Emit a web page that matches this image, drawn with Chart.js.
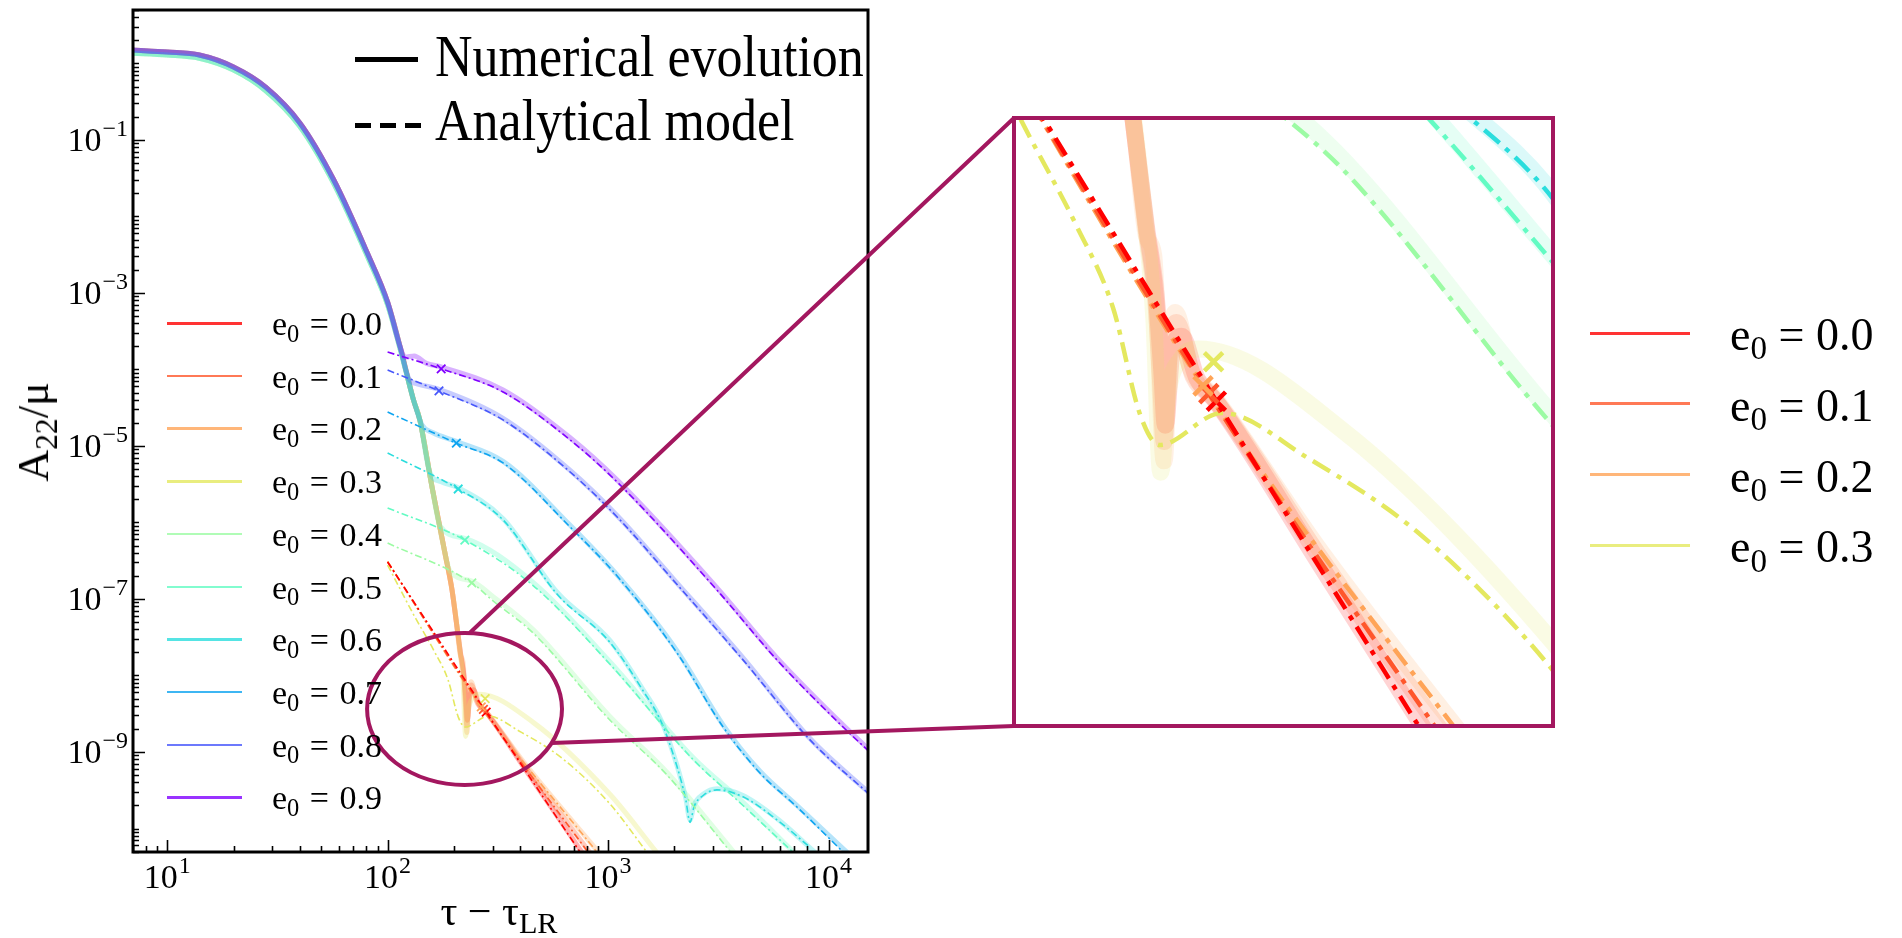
<!DOCTYPE html>
<html>
<head>
<meta charset="utf-8">
<script src="https://cdn.jsdelivr.net/npm/chart.js@4.4.0/dist/chart.umd.min.js"></script>
<style>
  html, body { margin: 0; padding: 0; background: #fff; }
  body { width: 1902px; height: 938px; position: relative; overflow: hidden;
         font-family: "Liberation Serif", "Times New Roman", serif; color: #000; }
  canvas { position: absolute; }
  #main { left: 0; top: 0; }
  #inset { left: 1014px; top: 118px; }
  #overlay { left: 0; top: 0; pointer-events: none; }
  .txt { position: absolute; white-space: nowrap; line-height: 1; }
  .sub { font-size: 0.72em; position: relative; top: 0.28em; }
  .bar { position: absolute; }
</style>
</head>
<body>
<canvas id="main" width="1902" height="938"></canvas>
<canvas id="inset" width="539" height="608"></canvas>
<canvas id="overlay" width="1902" height="938"></canvas>
<script>
// eccentricities and their colours (rainbow map, reversed)
const eccLabels = ['0.0', '0.1', '0.2', '0.3', '0.4', '0.5', '0.6', '0.7', '0.8', '0.9'];
const eccColors = [[255, 0, 0], [255, 87, 44], [255, 164, 87], [228, 232, 95], [156, 251, 164],
                   [99, 251, 195], [42, 221, 221], [14, 164, 240], [71, 87, 251], [128, 0, 255]];

// common start of the numerical runs (merger part)
const headX = [7, 10, 14, 20, 28, 40, 57, 81, 100, 114];
const headY = [1.5, 1.41, 1.29, 0.9, 0.49, 0.167, 0.030, 0.0033, 7.6e-4, 1.97e-4];
const headYLow = [1.36, 1.29, 1.17, 0.82, 0.44, 0.15, 0.027, 0.0030, 7.0e-4, 1.85e-4];

// numerical evolution after the merger, one row per e0
const numX = [
  [131, 140, 159, 182, 196, 205, 214, 222, 227, 230, 236, 245, 260, 280, 420, 760],
  [131, 140, 159, 182, 196, 205, 214, 222, 226, 229, 233, 240, 256, 278, 420, 820],
  [131, 140, 159, 182, 196, 205, 214, 220, 224, 229, 234, 239, 254, 277, 420, 900],
  [131, 140, 159, 182, 196, 210, 220, 226, 232, 245, 261, 459, 1019, 1650],
  [131, 140, 159, 182, 192, 241, 300, 457, 1021, 1852, 3700],
  [131, 140, 159, 173, 224, 457, 1021, 2429, 4093, 6900],
  [131, 140, 155, 175, 209, 334, 588, 1021, 1442, 1750, 2056, 2250, 2355, 2450, 2700, 3119, 4093, 5834, 8600],
  [131, 143, 160, 205, 334, 673, 1109, 2056, 3327, 4887, 7194, 12500],
  [125, 136, 171, 334, 673, 1109, 1972, 4093, 8241, 16000],
  [120, 132, 150, 175, 334, 673, 1109, 3119, 5834, 11640, 16000]
];
const numY = [
  [4e-5, 2.19e-5, 2.91e-6, 4e-7, 1.31e-7, 5e-8, 2e-8, 1e-8, 4.5e-9, 2.6e-9, 5.5e-9, 6.5e-9, 4.2e-9, 3.3e-9, 6e-10, 4.9e-11],
  [4e-5, 2.19e-5, 2.91e-6, 4e-7, 1.31e-7, 5e-8, 1.9e-8, 9e-9, 4e-9, 2.2e-9, 5e-9, 7.5e-9, 4.3e-9, 3.4e-9, 6.5e-10, 5e-11],
  [4e-5, 2.19e-5, 2.91e-6, 4e-7, 1.31e-7, 5e-8, 1.82e-8, 1.5e-8, 6e-9, 1.8e-9, 6e-9, 8.3e-9, 4.6e-9, 3.5e-9, 7e-10, 5e-11],
  [4e-5, 2.19e-5, 2.91e-6, 4e-7, 1.31e-7, 3e-8, 8e-9, 1.6e-9, 3.5e-9, 5.2e-9, 5.7e-9, 2.42e-9, 2.8e-10, 5e-11],
  [4e-5, 2.19e-5, 2.91e-6, 4e-7, 2.3e-7, 1.72e-7, 1.08e-7, 4.0e-8, 2.9e-9, 5.4e-10, 5e-11],
  [4e-5, 2.19e-5, 2.91e-6, 9e-7, 6.2e-7, 1.65e-7, 1.5e-8, 8.5e-10, 2.2e-10, 5e-11],
  [4e-5, 2.19e-5, 4.6e-6, 3.4e-6, 2.85e-6, 1.12e-6, 1.22e-7, 2.85e-8, 6.5e-9, 2.5e-9, 6.6e-10, 2.5e-10, 1.3e-10, 2e-10, 2.8e-10, 3.3e-10, 2.7e-10, 1.35e-10, 5e-11],
  [4e-5, 1.9e-5, 1.5e-5, 1.15e-5, 6.3e-6, 9.2e-7, 2.0e-7, 2.1e-8, 2.25e-9, 5.6e-10, 2.0e-10, 4.5e-11],
  [7.5e-5, 6.5e-5, 5.5e-5, 2.3e-5, 4.8e-6, 1.2e-6, 1.85e-7, 1.7e-8, 1.5e-9, 2.6e-10],
  [1.45e-4, 1.5e-4, 1.2e-4, 1.08e-4, 5.4e-5, 1.28e-5, 3.5e-6, 1.4e-7, 1.7e-8, 2.25e-9, 9.5e-10]
];

// analytical model, one row per e0
const anaX = [
  [100, 280, 746],
  [100, 272, 811],
  [100, 266, 891],
  [100, 132, 163, 188, 209, 225, 286, 396, 618, 1019, 1500],
  [100, 241, 300, 457, 1021, 1852, 3600],
  [100, 224, 457, 1021, 2429, 4093, 6900],
  [100, 209, 334, 588, 1021, 1442, 1750, 2056, 2250, 2355, 2450, 2700, 3119, 4093, 5834, 8241],
  [100, 205, 334, 673, 1109, 2056, 3327, 4887, 7194, 11640],
  [100, 171, 334, 673, 1109, 1972, 4093, 8241, 16000],
  [100, 175, 334, 673, 1109, 3119, 5834, 11640, 16000]
];
const anaY = [
  [3.05e-7, 3.33e-9, 4.93e-11],
  [3.05e-7, 3.6e-9, 4.9e-11],
  [3.1e-7, 3.9e-9, 4.9e-11],
  [2.78e-7, 6.04e-8, 2.06e-8, 8.77e-9, 2.88e-9, 2.12e-9, 2.95e-9, 1.87e-9, 8.3e-10, 2.1e-10, 4.9e-11],
  [5.4e-7, 1.62e-7, 9.5e-8, 3.6e-8, 2.6e-9, 5.0e-10, 4.9e-11],
  [1.55e-6, 5.9e-7, 1.5e-7, 1.4e-8, 8.0e-10, 2.0e-10, 4.9e-11],
  [8.1e-6, 2.74e-6, 1.08e-6, 1.15e-7, 2.7e-8, 6.3e-9, 2.4e-9, 6.4e-10, 2.4e-10, 1.2e-10, 1.9e-10, 2.7e-10, 3.2e-10, 2.6e-10, 1.3e-10, 5.7e-11],
  [2.78e-5, 1.09e-5, 6.0e-6, 8.73e-7, 1.94e-7, 1.97e-8, 2.12e-9, 5.31e-10, 1.91e-10, 4.93e-11],
  [9.84e-5, 5.24e-5, 2.19e-5, 4.57e-6, 1.15e-6, 1.77e-7, 1.6e-8, 1.44e-9, 2.5e-10],
  [1.69e-4, 1.02e-4, 5.08e-5, 1.2e-5, 3.3e-6, 1.31e-7, 1.6e-8, 2.12e-9, 9.0e-10]
];

// crosses on the model curves
const markX = [280, 272, 266, 277, 241, 224, 209, 205, 171, 175];
const markY = [3.33e-9, 3.6e-9, 3.9e-9, 5.0e-9, 1.62e-7, 5.9e-7, 2.74e-6, 1.09e-5, 5.24e-5, 1.02e-4];

// axis limits
const mainX = [7.0, 15100];
const mainY = [4.93e-11, 5.0];
const zoomX = [128.5, 1023];
const zoomY = [1.17e-10, 6.17e-8];
// ellipse marking the zoomed region (data coordinates)
const ellipseX = [80.7, 618];
const ellipseY = [3.7e-10, 3.6e-8];

const rgba = (c, a) => `rgba(${c[0]},${c[1]},${c[2]},${a})`;
const MAGENTA = '#a3175f';
const FONT = '"Liberation Serif", "Times New Roman", serif';

function makeDatasets(s) {
  const sets = [];
  eccLabels.forEach((lab, k) => {
    const c = eccColors[k];
    const head = (k >= 3 && k <= 6) ? headYLow : headY;
    const num = headX.map((x, i) => ({ x, y: head[i] }))
      .concat(numX[k].map((x, i) => ({ x, y: numY[k][i] })));
    sets.push({
      label: 'Numerical e0=' + lab, data: num, order: 3 + (9 - k) * 0.01,
      borderColor: rgba(c, s.numAlpha), borderWidth: s.numWidth,
      pointRadius: 0, cubicInterpolationMode: 'monotone',
      borderJoinStyle: 'round', borderCapStyle: 'round'
    });
    sets.push({
      label: 'Analytical e0=' + lab, data: anaX[k].map((x, i) => ({ x, y: anaY[k][i] })), order: 2,
      borderColor: rgba(c, 1), borderWidth: s.anaWidth, borderDash: s.dash,
      pointRadius: 0, cubicInterpolationMode: 'monotone'
    });
  });
  sets.push({
    label: 'crosses', data: markX.map((x, i) => ({ x, y: markY[i] })), order: 1,
    showLine: false, pointStyle: 'crossRot', pointRadius: s.markR, pointBorderWidth: s.markW,
    pointBorderColor: eccColors.map(c => rgba(c, 1)), pointBackgroundColor: 'rgba(0,0,0,0)'
  });
  return sets;
}

function logTicks(min, max) {
  const out = [];
  for (let e = Math.floor(Math.log10(min)); e <= Math.ceil(Math.log10(max)); e++) {
    for (let m = 1; m <= 9; m++) {
      const v = m * Math.pow(10, e);
      if (v >= min * 0.9999 && v <= max * 1.0001) out.push({ value: v, exp: e, major: m === 1 });
    }
  }
  return out;
}

function drawPow(ctx, exp, x, baseY, align) {
  const base = '10';
  const sup = (exp < 0 ? '\u2212' : '') + Math.abs(exp);
  ctx.font = '34px ' + FONT;
  const wb = ctx.measureText(base).width;
  ctx.font = '24px ' + FONT;
  const ws = ctx.measureText(sup).width;
  const w = wb + ws + 1;
  const x0 = align === 'right' ? x - w : x - w / 2;
  ctx.textAlign = 'left';
  ctx.textBaseline = 'alphabetic';
  ctx.fillStyle = '#000';
  ctx.font = '34px ' + FONT;
  ctx.fillText(base, x0, baseY);
  ctx.font = '24px ' + FONT;
  ctx.fillText(sup, x0 + wb + 1, baseY - 15);
}

// frame, inward ticks and 10^n labels for the main axes
const axesPlugin = {
  id: 'axesPlugin',
  afterDraw(chart) {
    const { ctx, chartArea: a, scales: { x, y } } = chart;
    ctx.save();
    ctx.strokeStyle = '#000';
    ctx.lineWidth = 1.6;
    ctx.beginPath();
    logTicks(x.min, x.max).forEach(t => {
      const px = Math.round(x.getPixelForValue(t.value)) + 0.5;
      const len = t.major ? 12 : 6;
      ctx.moveTo(px, a.bottom);
      ctx.lineTo(px, a.bottom - len);
    });
    logTicks(y.min, y.max).forEach(t => {
      const py = Math.round(y.getPixelForValue(t.value)) + 0.5;
      const len = (t.major && Math.abs(t.exp) % 2 === 1) ? 12 : 6;
      ctx.moveTo(a.left, py);
      ctx.lineTo(a.left + len, py);
    });
    ctx.stroke();
    ctx.lineWidth = 3;
    ctx.strokeRect(a.left, a.top, a.right - a.left, a.bottom - a.top);
    logTicks(x.min, x.max).filter(t => t.major).forEach(t => {
      drawPow(ctx, t.exp, x.getPixelForValue(t.value), a.bottom + 36, 'center');
    });
    logTicks(y.min, y.max).filter(t => t.major && Math.abs(t.exp) % 2 === 1).forEach(t => {
      drawPow(ctx, t.exp, a.left - 5, y.getPixelForValue(t.value) + 11, 'right');
    });
    ctx.restore();
  }
};

function baseOptions(xr, yr, padding) {
  return {
    responsive: false, animation: false, events: [], devicePixelRatio: 1,
    layout: { padding, autoPadding: false },
    scales: {
      x: { type: 'logarithmic', min: xr[0], max: xr[1], display: false },
      y: { type: 'logarithmic', min: yr[0], max: yr[1], display: false }
    },
    plugins: { legend: { display: false }, tooltip: { enabled: false } }
  };
}

const mainChart = new Chart(document.getElementById('main'), {
  type: 'line',
  data: { datasets: makeDatasets({ numAlpha: 0.3, numWidth: 5, anaWidth: 1.6, dash: [7, 3, 2, 3], markR: 6, markW: 1.8 }) },
  options: baseOptions(mainX, mainY, { left: 133, top: 10, right: 1034, bottom: 86 }),
  plugins: [axesPlugin]
});

const insetChart = new Chart(document.getElementById('inset'), {
  type: 'line',
  data: { datasets: makeDatasets({ numAlpha: 0.17, numWidth: 17, anaWidth: 4.5, dash: [20, 8, 5, 8], markR: 13, markW: 4.5 }) },
  options: baseOptions(zoomX, zoomY, 0)
});

// ellipse, connector lines and inset frame
(function drawOverlay() {
  const ctx = document.getElementById('overlay').getContext('2d');
  const sx = mainChart.scales.x, sy = mainChart.scales.y;
  const l = sx.getPixelForValue(ellipseX[0]), r = sx.getPixelForValue(ellipseX[1]);
  const t = sy.getPixelForValue(ellipseY[1]), b = sy.getPixelForValue(ellipseY[0]);
  const cx = (l + r) / 2, cy = (t + b) / 2, rx = (r - l) / 2, ry = (b - t) / 2;
  const ic = document.getElementById('inset');
  const ia = insetChart.chartArea;
  const bx = ic.offsetLeft + ia.left, by = ic.offsetTop + ia.top;
  const bw = ia.right - ia.left, bh = ia.bottom - ia.top;
  const onEll = deg => [cx + rx * Math.cos(deg * Math.PI / 180), cy + ry * Math.sin(deg * Math.PI / 180)];
  ctx.strokeStyle = MAGENTA;
  ctx.lineWidth = 4;
  ctx.beginPath();
  ctx.ellipse(cx, cy, rx, ry, 0, 0, Math.PI * 2);
  ctx.stroke();
  const p1 = onEll(-87), p2 = onEll(26.6);
  ctx.beginPath();
  ctx.moveTo(p1[0], p1[1]); ctx.lineTo(bx, by);
  ctx.moveTo(p2[0], p2[1]); ctx.lineTo(bx, by + bh);
  ctx.stroke();
  ctx.strokeRect(bx, by, bw, bh);
})();

// html text: legends and axis titles
function addText(html, left, top, size, extra) {
  const d = document.createElement('div');
  d.className = 'txt';
  d.innerHTML = html;
  d.style.left = left + 'px';
  d.style.top = top + 'px';
  d.style.fontSize = size + 'px';
  if (extra) Object.assign(d.style, extra);
  document.body.appendChild(d);
  return d;
}
function addBar(left, top, w, h, color) {
  const d = document.createElement('div');
  d.className = 'bar';
  Object.assign(d.style, { left: left + 'px', top: top + 'px', width: w + 'px', height: h + 'px', background: color });
  document.body.appendChild(d);
}

// style legend
addBar(355, 57, 63, 5, '#000');
[355, 380, 405].forEach(x => addBar(x, 123, 16, 5, '#000'));
const tall = { transform: 'scaleY(1.14)', transformOrigin: '0 80%' };
addText('Numerical evolution', 435, 33, 52, tall);
addText('Analytical model', 435, 97, 52, tall);

// e0 legend inside the main axes
eccLabels.forEach((lab, k) => {
  const y = 323 + 52.7 * k;
  addBar(167, y - 1, 75, 2.5, rgba(eccColors[k], 0.8));
  addText('e<span class="sub">0</span> = ' + lab, 272, y - 16, 34, { wordSpacing: '2px' });
});

// e0 legend next to the inset (first four only)
eccLabels.slice(0, 4).forEach((lab, k) => {
  const y = 333 + 70.8 * k;
  addBar(1590, y - 1.5, 100, 3, rgba(eccColors[k], 0.8));
  addText('e<span class="sub">0</span> = ' + lab, 1730, y - 21, 46);
});

// axis titles
addText('A<span class="sub">22</span>/\u03bc', 34, 432, 44,
  { transform: 'translate(-50%, -50%) rotate(-90deg)' });
addText('\u03c4 \u2212 \u03c4<span class="sub">LR</span>', 499, 890, 42,
  { transform: 'translateX(-50%)' });
</script>
</body>
</html>
